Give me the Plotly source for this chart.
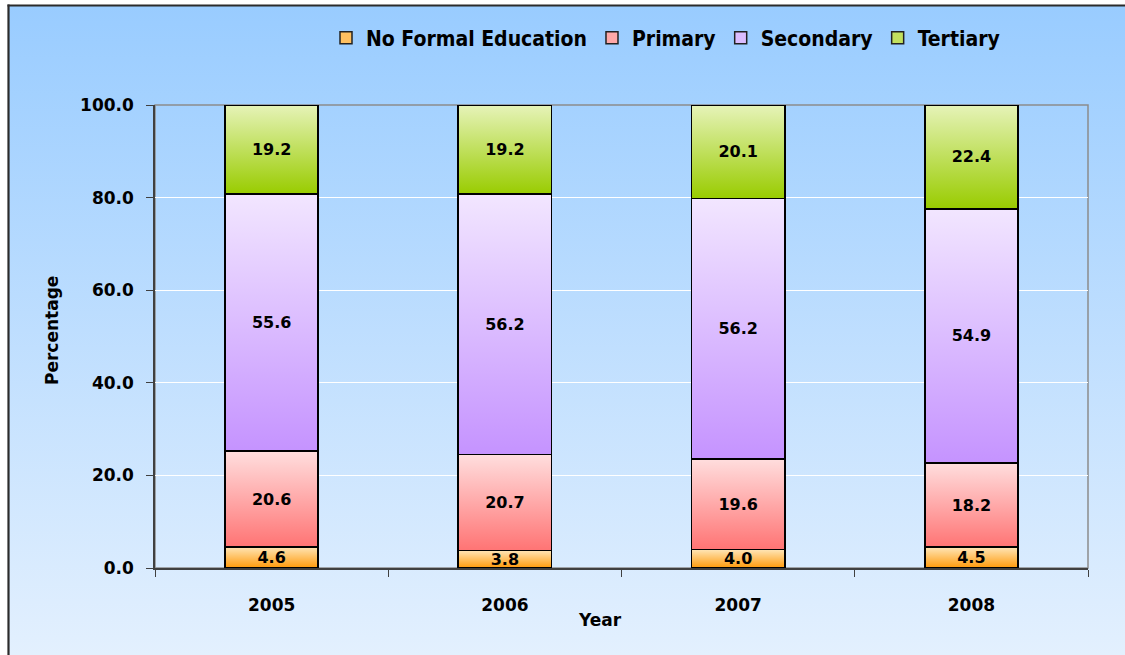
import base64
import plotly.graph_objects as go

years = ["2005", "2006", "2007", "2008"]
no_formal = [4.6, 3.8, 4.0, 4.5]
primary = [20.6, 20.7, 19.6, 18.2]
secondary = [55.6, 56.2, 56.2, 54.9]
tertiary = [19.2, 19.2, 20.1, 22.4]
series_names = ["No Formal Education", "Primary", "Secondary", "Tertiary"]
series_values = [no_formal, primary, secondary, tertiary]
series_colors = ["#FFC060", "#FFA8A8", "#DBBDFF", "#C2E05E"]
series_top = ["#FFE6B8", "#FFDEDE", "#F2E6FF", "#E6F3B8"]
series_bottom = ["#FF9A0A", "#FF7474", "#C593FF", "#99CC00"]
y_ticks = [0, 20, 40, 60, 80, 100]

W, H = 1125, 655
L, R, T, B = 155, 37, 105, 87
PW, PH = W - L - R, H - T - B
BARGAP = 0.6
HALF = (1 - BARGAP) / 2
XR = [-0.5, len(years) - 0.5]

def px_x(p):
    return (p - L) / PW

def px_y(p):
    return (H - B - p) / PH

svg = ('<svg xmlns="http://www.w3.org/2000/svg" width="100" height="100" preserveAspectRatio="none">'
       '<defs><linearGradient id="g" x1="0" y1="0" x2="0" y2="1">'
       '<stop offset="0" stop-color="#99CCFF"/><stop offset="1" stop-color="#E3F0FE"/>'
       '</linearGradient></defs><rect width="100" height="100" fill="url(#g)"/></svg>')
bg_src = "data:image/svg+xml;base64," + base64.b64encode(svg.encode()).decode()

TICKFONT = dict(family="DejaVu Sans", size=17, color="#000000", weight="bold")
TITLEFONT = dict(family="DejaVu Sans", size=17, color="#000000", weight="bold")

fig = go.Figure()

# layer 1: the stacked bars (solid colours, legend)
for name, vals, col in zip(series_names, series_values, series_colors):
    fig.add_trace(go.Bar(
        name=name, x=years, y=vals, xaxis="x", yaxis="y",
        marker=dict(color=col, line=dict(color="#222222", width=1.5)),
        hoverinfo="skip",
    ))

# layer 2: vertical gradient shading of each stacked segment
bases = [0.0] * len(years)
for name, vals, top, bot in zip(series_names, series_values, series_top, series_bottom):
    for i, v in enumerate(vals):
        b0, b1 = bases[i], bases[i] + v
        fig.add_trace(go.Scatter(
            x=[i - HALF, i + HALF, i + HALF, i - HALF, i - HALF],
            y=[b0, b0, b1, b1, b0], xaxis="x2", yaxis="y",
            mode="lines", line=dict(width=0, color=bot), fill="toself",
            fillgradient=dict(type="vertical", colorscale=[[0, bot], [1, top]]),
            showlegend=False, hoverinfo="skip",
        ))
        bases[i] = b1

# layer 3: outlines and value labels
for name, vals in zip(series_names, series_values):
    fig.add_trace(go.Bar(
        name=name, x=years, y=vals, xaxis="x3", yaxis="y",
        marker=dict(color="rgba(0,0,0,0)", line=dict(color="#000000", width=1.8)),
        text=[f"{v:.1f}" for v in vals], textposition="inside",
        insidetextanchor="middle", constraintext="none", textangle=0,
        textfont=dict(family="DejaVu Sans", size=16, color="#000000", weight="bold"),
        showlegend=False,
    ))

fig.update_layout(
    width=W, height=H, barmode="stack", bargap=BARGAP,
    margin=dict(l=L, r=R, t=T, b=B),
    paper_bgcolor="white", plot_bgcolor="rgba(0,0,0,0)",
    uniformtext=dict(minsize=16, mode="show"),
    showlegend=True,
    legend=dict(orientation="h", xref="container", yref="container",
                x=326 / W, y=1 - 38 / H, xanchor="left", yanchor="middle",
                bgcolor="rgba(0,0,0,0)", traceorder="normal",
                font=dict(family="DejaVu Sans Condensed, DejaVu Sans, sans-serif",
                          size=21, color="#000000", weight="bold")),
    xaxis=dict(type="category", range=XR, showline=True, linecolor="#404040", linewidth=1.5,
               ticks="outside", tickson="boundaries", ticklen=7, tickcolor="#404040",
               tickfont=TICKFONT, showgrid=False, ticklabelstandoff=21),
    xaxis2=dict(type="linear", range=XR, overlaying="x", visible=False, showgrid=False),
    xaxis3=dict(type="category", range=XR, overlaying="x", visible=False, showgrid=False),
    yaxis=dict(range=[0, 100], tickvals=y_ticks, tickformat=".1f", showline=True,
               linecolor="#404040", linewidth=1.5, ticks="outside", ticklen=7,
               tickcolor="#404040", tickfont=TICKFONT, showgrid=True,
               gridcolor="#FFFFFF", gridwidth=1.2, zeroline=False, ticklabelstandoff=9),
    annotations=[
        dict(text="Year", xref="paper", yref="paper", x=px_x(600), y=px_y(620),
             xanchor="center", yanchor="middle", showarrow=False, font=TITLEFONT),
        dict(text="Percentage", xref="paper", yref="paper", x=px_x(52), y=px_y(331),
             xanchor="center", yanchor="middle", showarrow=False, textangle=-90, font=TITLEFONT),
    ],
    images=[dict(source=bg_src, xref="paper", yref="paper", x=px_x(9), y=px_y(6),
                 sizex=px_x(W) - px_x(9), sizey=px_y(6) - px_y(H),
                 sizing="stretch", layer="below", xanchor="left", yanchor="top")],
    shapes=[
        dict(type="line", xref="paper", yref="paper", x0=px_x(8.5), x1=px_x(8.5),
             y0=px_y(H), y1=px_y(4.5), line=dict(color="#2B2B2B", width=2.2), layer="below"),
        dict(type="line", xref="paper", yref="paper", x0=px_x(7.5), x1=px_x(W),
             y0=px_y(5.5), y1=px_y(5.5), line=dict(color="#2B2B2B", width=2.2), layer="below"),
        dict(type="rect", xref="paper", yref="paper", x0=0, x1=1, y0=0, y1=1,
             line=dict(color="#8C8C8C", width=1.5), fillcolor="rgba(0,0,0,0)", layer="below"),
    ],
)

fig.write_html("out.html", config={"displayModeBar": False},
               post_script=("document.body.style.margin='0';"
                            "document.body.style.overflow='hidden';"
                            "document.documentElement.style.overflow='hidden';"))
